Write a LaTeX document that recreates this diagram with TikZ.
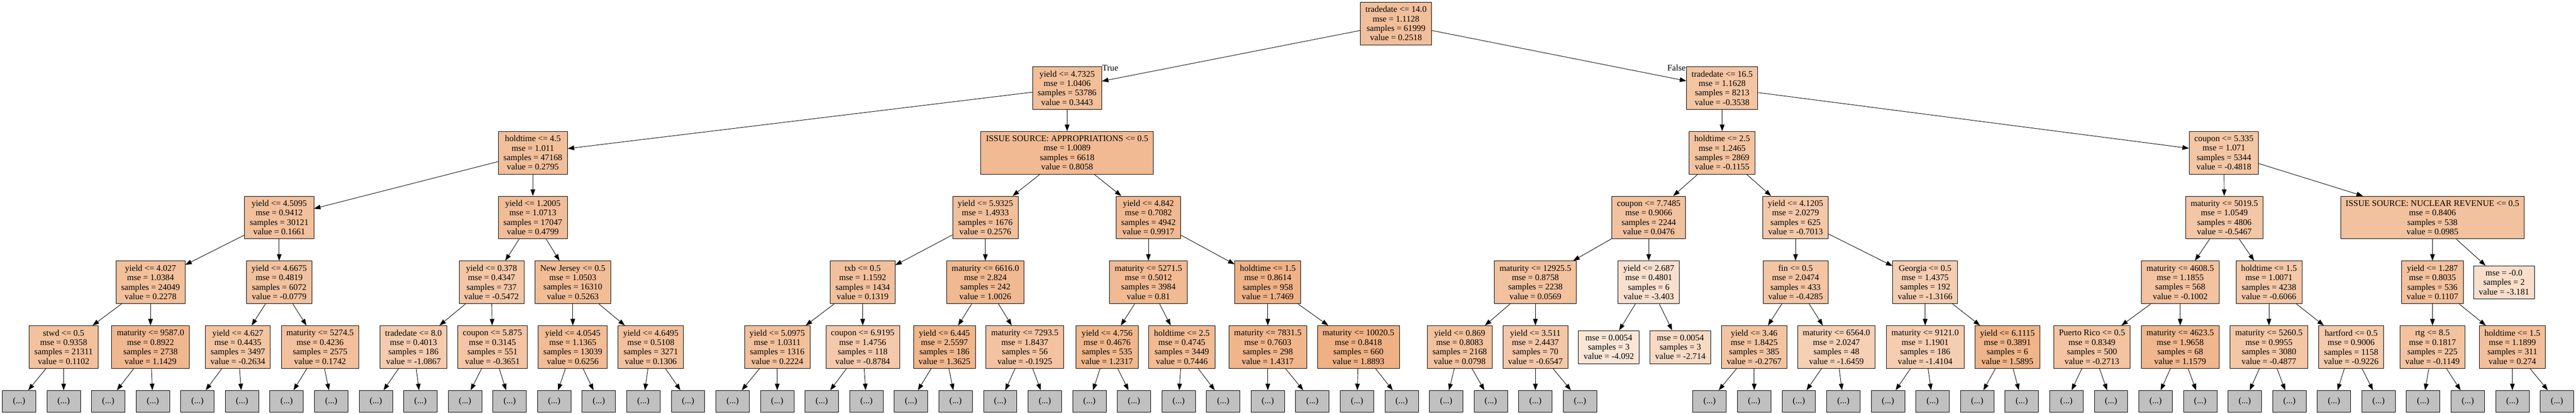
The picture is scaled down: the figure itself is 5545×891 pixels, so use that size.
\documentclass[tikz,border=0pt]{standalone}
\usepackage{fontspec}
\setmainfont{Liberation Serif}
\usetikzlibrary{arrows.meta}

\definecolor{treeorange}{HTML}{E58139}
\definecolor{cutgray}{HTML}{C0C0C0}

\tikzset{every picture/.style={line width=0.75pt}}
\tikzset{
  tbox/.style={draw, align=center, inner xsep=8.25pt, inner ysep=0pt, minimum height=69pt, minimum width=54pt, font=\fontsize{14}{15.3}\selectfont},
  tleaf/.style={tbox, minimum height=53.25pt},
  tcut/.style={draw, fill=cutgray, minimum width=54pt, minimum height=35.25pt, inner sep=0pt, font=\fontsize{14}{15.3}\selectfont},
  tval/.style={/utils/exec={\pgfmathsetmacro\tpct{(#1+6.94)/14.24*100}}, fill=treeorange!\tpct!white},
  tedge/.style={-{Triangle[length=10.5pt,width=7.5pt]}},
  tlabel/.style={inner sep=0pt, font=\fontsize{14}{15.3}\selectfont}
}

\begin{document}
\begin{tikzpicture}[x=0.75pt,y=0.75pt,yscale=-1,xscale=1]
\useasboundingbox (0,0) rectangle (5545,891);

% root
\node[tbox, tval=0.2518] (r) at (3005,50.5) {tradedate <= 14.0\\mse = 1.1128\\samples = 61999\\value = 0.2518};

% level 1
\node[tbox, tval=0.3443] (a1) at (2297,189.5) {yield <= 4.7325\\mse = 1.0406\\samples = 53786\\value = 0.3443};
\node[tbox, tval=-0.3538] (a2) at (3707,189.5) {tradedate <= 16.5\\mse = 1.1628\\samples = 8213\\value = -0.3538};

% level 2
\node[tbox, tval=0.2795] (b1) at (1147,329) {holdtime <= 4.5\\mse = 1.011\\samples = 47168\\value = 0.2795};
\node[tbox, tval=0.8058] (b2) at (2297,329) {ISSUE SOURCE: APPROPRIATIONS <= 0.5\\mse = 1.0089\\samples = 6618\\value = 0.8058};
\node[tbox, tval=-0.1155] (b3) at (3707,329) {holdtime <= 2.5\\mse = 1.2465\\samples = 2869\\value = -0.1155};
\node[tbox, tval=-0.4818] (b4) at (4787,329) {coupon <= 5.335\\mse = 1.071\\samples = 5344\\value = -0.4818};

% level 3
\node[tbox, tval=0.1661] (c1) at (601,468.5) {yield <= 4.5095\\mse = 0.9412\\samples = 30121\\value = 0.1661};
\node[tbox, tval=0.4799] (c2) at (1147,468.5) {yield <= 1.2005\\mse = 1.0713\\samples = 17047\\value = 0.4799};
\node[tbox, tval=0.2576] (c3) at (2121,468.5) {yield <= 5.9325\\mse = 1.4933\\samples = 1676\\value = 0.2576};
\node[tbox, tval=0.9917] (c4) at (2472,468.5) {yield <= 4.842\\mse = 0.7082\\samples = 4942\\value = 0.9917};
\node[tbox, tval=0.0476] (c5) at (3549,468.5) {coupon <= 7.7485\\mse = 0.9066\\samples = 2244\\value = 0.0476};
\node[tbox, tval=-0.7013] (c6) at (3865,468.5) {yield <= 4.1205\\mse = 2.0279\\samples = 625\\value = -0.7013};
\node[tbox, tval=-0.5467] (c7) at (4788,468.5) {maturity <= 5019.5\\mse = 1.0549\\samples = 4806\\value = -0.5467};
\node[tbox, tval=0.0985] (c8) at (5236,468.5) {ISSUE SOURCE: NUCLEAR REVENUE <= 0.5\\mse = 0.8406\\samples = 538\\value = 0.0985};

% level 4
\node[tbox, tval=0.2278] (d1) at (324,608) {yield <= 4.027\\mse = 1.0384\\samples = 24049\\value = 0.2278};
\node[tbox, tval=-0.0779] (d2) at (601,608) {yield <= 4.6675\\mse = 0.4819\\samples = 6072\\value = -0.0779};
\node[tbox, tval=-0.5472] (d3) at (1058,608) {yield <= 0.378\\mse = 0.4347\\samples = 737\\value = -0.5472};
\node[tbox, tval=0.5263] (d4) at (1233,608) {New Jersey <= 0.5\\mse = 1.0503\\samples = 16310\\value = 0.5263};
\node[tbox, tval=0.1319] (d5) at (1857,608) {txb <= 0.5\\mse = 1.1592\\samples = 1434\\value = 0.1319};
\node[tbox, tval=1.0026] (d6) at (2121,608) {maturity <= 6616.0\\mse = 2.824\\samples = 242\\value = 1.0026};
\node[tbox, tval=0.81] (d7) at (2472,608) {maturity <= 5271.5\\mse = 0.5012\\samples = 3984\\value = 0.81};
\node[tbox, tval=1.7469] (d8) at (2729,608) {holdtime <= 1.5\\mse = 0.8614\\samples = 958\\value = 1.7469};
\node[tbox, tval=0.0569] (d9) at (3305,608) {maturity <= 12925.5\\mse = 0.8758\\samples = 2238\\value = 0.0569};
\node[tbox, tval=-3.403] (d10) at (3549,608) {yield <= 2.687\\mse = 0.4801\\samples = 6\\value = -3.403};
\node[tbox, tval=-0.4285] (d11) at (3865,608) {fin <= 0.5\\mse = 2.0474\\samples = 433\\value = -0.4285};
\node[tbox, tval=-1.3166] (d12) at (4144,608) {Georgia <= 0.5\\mse = 1.4375\\samples = 192\\value = -1.3166};
\node[tbox, tval=-0.1002] (d13) at (4693,608) {maturity <= 4608.5\\mse = 1.1855\\samples = 568\\value = -0.1002};
\node[tbox, tval=-0.6066] (d14) at (4884,608) {holdtime <= 1.5\\mse = 1.0071\\samples = 4238\\value = -0.6066};
\node[tbox, tval=0.1107] (d15) at (5236,608) {yield <= 1.287\\mse = 0.8035\\samples = 536\\value = 0.1107};
\node[tleaf, tval=-3.181] (d16) at (5390,608) {mse = -0.0\\samples = 2\\value = -3.181};

% level 5
\node[tbox, tval=0.1102] (e1) at (137,747.5) {stwd <= 0.5\\mse = 0.9358\\samples = 21311\\value = 0.1102};
\node[tbox, tval=1.1429] (e2) at (324,747.5) {maturity <= 9587.0\\mse = 0.8922\\samples = 2738\\value = 1.1429};
\node[tbox, tval=-0.2634] (e3) at (512,747.5) {yield <= 4.627\\mse = 0.4435\\samples = 3497\\value = -0.2634};
\node[tbox, tval=0.1742] (e4) at (689,747.5) {maturity <= 5274.5\\mse = 0.4236\\samples = 2575\\value = 0.1742};
\node[tbox, tval=-1.0867] (e5) at (890,747.5) {tradedate <= 8.0\\mse = 0.4013\\samples = 186\\value = -1.0867};
\node[tbox, tval=-0.3651] (e6) at (1060,747.5) {coupon <= 5.875\\mse = 0.3145\\samples = 551\\value = -0.3651};
\node[tbox, tval=0.6256] (e7) at (1233,747.5) {yield <= 4.0545\\mse = 1.1365\\samples = 13039\\value = 0.6256};
\node[tbox, tval=0.1306] (e8) at (1401,747.5) {yield <= 4.6495\\mse = 0.5108\\samples = 3271\\value = 0.1306};
\node[tbox, tval=0.2224] (e9) at (1673,747.5) {yield <= 5.0975\\mse = 1.0311\\samples = 1316\\value = 0.2224};
\node[tbox, tval=-0.8784] (e10) at (1857,747.5) {coupon <= 6.9195\\mse = 1.4756\\samples = 118\\value = -0.8784};
\node[tbox, tval=1.3625] (e11) at (2033,747.5) {yield <= 6.445\\mse = 2.5597\\samples = 186\\value = 1.3625};
\node[tbox, tval=-0.1925] (e12) at (2206,747.5) {maturity <= 7293.5\\mse = 1.8437\\samples = 56\\value = -0.1925};
\node[tbox, tval=1.2317] (e13) at (2383,747.5) {yield <= 4.756\\mse = 0.4676\\samples = 535\\value = 1.2317};
\node[tbox, tval=0.7446] (e14) at (2544,747.5) {holdtime <= 2.5\\mse = 0.4745\\samples = 3449\\value = 0.7446};
\node[tbox, tval=1.4317] (e15) at (2729,747.5) {maturity <= 7831.5\\mse = 0.7603\\samples = 298\\value = 1.4317};
\node[tbox, tval=1.8893] (e16) at (2924,747.5) {maturity <= 10020.5\\mse = 0.8418\\samples = 660\\value = 1.8893};
\node[tbox, tval=0.0798] (e17) at (3142,747.5) {yield <= 0.869\\mse = 0.8083\\samples = 2168\\value = 0.0798};
\node[tbox, tval=-0.6547] (e18) at (3305,747.5) {yield <= 3.511\\mse = 2.4437\\samples = 70\\value = -0.6547};
\node[tleaf, tval=-4.092] (e19) at (3463,747.5) {mse = 0.0054\\samples = 3\\value = -4.092};
\node[tleaf, tval=-2.714] (e20) at (3617,747.5) {mse = 0.0054\\samples = 3\\value = -2.714};
\node[tbox, tval=-0.2767] (e21) at (3776,747.5) {yield <= 3.46\\mse = 1.8425\\samples = 385\\value = -0.2767};
\node[tbox, tval=-1.6459] (e22) at (3953,747.5) {maturity <= 6564.0\\mse = 2.0247\\samples = 48\\value = -1.6459};
\node[tbox, tval=-1.4104] (e23) at (4144,747.5) {maturity <= 9121.0\\mse = 1.1901\\samples = 186\\value = -1.4104};
\node[tbox, tval=1.5895] (e24) at (4321,747.5) {yield <= 6.1115\\mse = 0.3891\\samples = 6\\value = 1.5895};
\node[tbox, tval=-0.2713] (e25) at (4503,747.5) {Puerto Rico <= 0.5\\mse = 0.8349\\samples = 500\\value = -0.2713};
\node[tbox, tval=1.1579] (e26) at (4693,747.5) {maturity <= 4623.5\\mse = 1.9658\\samples = 68\\value = 1.1579};
\node[tbox, tval=-0.4877] (e27) at (4884,747.5) {maturity <= 5260.5\\mse = 0.9955\\samples = 3080\\value = -0.4877};
\node[tbox, tval=-0.9226] (e28) at (5061,747.5) {hartford <= 0.5\\mse = 0.9006\\samples = 1158\\value = -0.9226};
\node[tbox, tval=-0.1149] (e29) at (5236,747.5) {rtg <= 8.5\\mse = 0.1817\\samples = 225\\value = -0.1149};
\node[tbox, tval=0.274] (e30) at (5408,747.5) {holdtime <= 1.5\\mse = 1.1899\\samples = 311\\value = 0.274};

% edges between the shown levels
\draw[tedge] (r) -- (a1);
\draw[tedge] (r) -- (a2);
\draw[tedge] (a1) -- (b1);
\draw[tedge] (a1) -- (b2);
\draw[tedge] (a2) -- (b3);
\draw[tedge] (a2) -- (b4);
\foreach \k in {1,...,4} {
  \pgfmathtruncatemacro\kl{2*\k-1}
  \pgfmathtruncatemacro\kr{2*\k}
  \draw[tedge] (b\k) -- (c\kl);
  \draw[tedge] (b\k) -- (c\kr);
}
\foreach \k in {1,...,8} {
  \pgfmathtruncatemacro\kl{2*\k-1}
  \pgfmathtruncatemacro\kr{2*\k}
  \draw[tedge] (c\k) -- (d\kl);
  \draw[tedge] (c\k) -- (d\kr);
}
\foreach \k in {1,...,15} {
  \pgfmathtruncatemacro\kl{2*\k-1}
  \pgfmathtruncatemacro\kr{2*\k}
  \draw[tedge] (d\k) -- (e\kl);
  \draw[tedge] (d\k) -- (e\kr);
}

% cut-off subtrees
\foreach \p [count=\i from 0] in {e1,e2,e3,e4,e5,e6,e7,e8,e9,e10,e11,e12,e13,e14,e15,e16,e17,e18} {
  \pgfmathsetmacro\xa{41+192*\i}
  \pgfmathsetmacro\xb{137+192*\i}
  \node[tcut] (\p l) at (\xa,864.5) {(...)};
  \node[tcut] (\p r) at (\xb,864.5) {(...)};
  \draw[tedge] (\p) -- (\p l);
  \draw[tedge] (\p) -- (\p r);
}
\foreach \p [count=\i from 0] in {e21,e22,e23,e24,e25,e26,e27,e28,e29,e30} {
  \pgfmathsetmacro\xa{3680+192*\i}
  \pgfmathsetmacro\xb{3776+192*\i}
  \node[tcut] (\p l) at (\xa,864.5) {(...)};
  \node[tcut] (\p r) at (\xb,864.5) {(...)};
  \draw[tedge] (\p) -- (\p l);
  \draw[tedge] (\p) -- (\p r);
}

% edge labels
\node[tlabel, anchor=base west] (lblT) at (2372,152.5) {True};
\node[tlabel, anchor=base east] (lblF) at (3629,152.5) {False};

\end{tikzpicture}
\end{document}
